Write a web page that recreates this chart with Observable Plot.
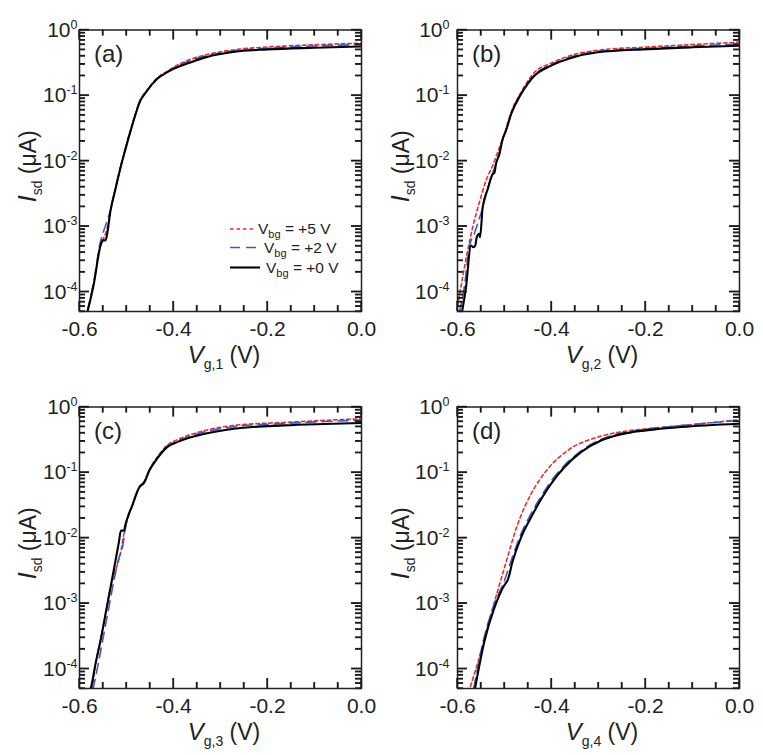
<!DOCTYPE html>
<html><head><meta charset="utf-8">
<script src="https://cdn.jsdelivr.net/npm/d3@7"></script>
<script src="https://cdn.jsdelivr.net/npm/@observablehq/plot@0.6"></script>
<style>
html,body{margin:0;padding:0;background:#fff;}
#wrap{position:relative;width:763px;height:755px;overflow:hidden;font-family:'Liberation Sans',Arial,sans-serif;}
.panel{position:absolute;}
#ticks{position:absolute;left:0;top:0;z-index:5;pointer-events:none;}
</style></head><body><div id="wrap"></div>
<script>
// ---------- data: [Vg (V), Isd (uA)] ----------
const a_bg5 = [[-0.5825,5.2e-5],[-0.5697,1.33e-4],[-0.5555,5.0e-4],[-0.5490,6.5e-4],[-0.5440,8.0e-4],[-0.5400,1.0e-3],[-0.5339,1.75e-3],[-0.5232,3.85e-3],[-0.5125,8.2e-3],[-0.5019,0.0158],[-0.4912,0.030],[-0.4805,0.054],[-0.4735,0.077],[-0.4558,0.122],[-0.4345,0.186],[-0.4131,0.235],[-0.4000,0.270],[-0.3882,0.300],[-0.3668,0.350],[-0.3300,0.420],[-0.2700,0.500],[-0.2000,0.550],[-0.1000,0.595],[0,0.63]];
const a_bg2 = [[-0.5830,5.2e-5],[-0.5700,1.38e-4],[-0.5565,5.4e-4],[-0.5500,8.0e-4],[-0.5440,1.05e-3],[-0.5400,1.3e-3],[-0.5339,1.8e-3],[-0.5232,3.9e-3],[-0.5125,8.2e-3],[-0.5019,0.0157],[-0.4912,0.029],[-0.4805,0.053],[-0.4735,0.075],[-0.4558,0.12],[-0.4345,0.182],[-0.4131,0.231],[-0.4000,0.262],[-0.3882,0.290],[-0.3668,0.335],[-0.3300,0.405],[-0.2700,0.480],[-0.2000,0.525],[-0.1000,0.570],[0,0.60]];
const a_bg0 = [[-0.5823,5.2e-5],[-0.5695,1.33e-4],[-0.5552,5.1e-4],[-0.5503,6.1e-4],[-0.5446,6.1e-4],[-0.5411,7.7e-4],[-0.5339,1.75e-3],[-0.5232,3.8e-3],[-0.5125,8.0e-3],[-0.5019,0.0154],[-0.4912,0.029],[-0.4805,0.052],[-0.4735,0.0746],[-0.4558,0.119],[-0.4345,0.18],[-0.4131,0.227],[-0.4000,0.255],[-0.3882,0.277],[-0.3668,0.315],[-0.3300,0.385],[-0.2700,0.465],[-0.2000,0.505],[-0.1000,0.535],[0,0.56]];

const b_bg5 = [[-0.6000,6.0e-5],[-0.5890,1.68e-4],[-0.5783,4.3e-4],[-0.5677,9.7e-4],[-0.5536,2.3e-3],[-0.5394,5.0e-3],[-0.5251,8.5e-3],[-0.5110,0.016],[-0.4968,0.031],[-0.4860,0.055],[-0.4647,0.112],[-0.4364,0.225],[-0.4010,0.31],[-0.3584,0.41],[-0.3018,0.49],[-0.1955,0.55],[-0.1000,0.60],[0,0.65]];
const b_bg2 = [[-0.5960,4.9e-5],[-0.5855,1.18e-4],[-0.5750,4.8e-4],[-0.5643,7.7e-4],[-0.5550,1.23e-3],[-0.5480,1.75e-3],[-0.5357,3.8e-3],[-0.5287,5.6e-3],[-0.5181,9.0e-3],[-0.5110,0.0127],[-0.5038,0.0216],[-0.4968,0.029],[-0.4860,0.052],[-0.4647,0.107],[-0.4364,0.205],[-0.4010,0.295],[-0.3584,0.39],[-0.3018,0.47],[-0.1955,0.525],[-0.1000,0.57],[0,0.61]];
const b_bg0 = [[-0.5904,4.9e-5],[-0.5819,1.18e-4],[-0.5713,5.1e-4],[-0.5664,4.8e-4],[-0.5621,5.1e-4],[-0.5592,6.8e-4],[-0.5536,7.7e-4],[-0.5521,6.8e-4],[-0.5464,1.96e-3],[-0.5357,3.7e-3],[-0.5251,6.3e-3],[-0.5215,6.6e-3],[-0.5181,9.0e-3],[-0.5110,0.0127],[-0.5038,0.0216],[-0.4968,0.029],[-0.4860,0.052],[-0.4647,0.105],[-0.4364,0.20],[-0.4010,0.285],[-0.3584,0.373],[-0.3018,0.456],[-0.1955,0.51],[-0.1000,0.545],[0,0.575]];

const c_bg5 = [[-0.5735,4.9e-5],[-0.5650,1.25e-4],[-0.5550,2.9e-4],[-0.5450,6.5e-4],[-0.5369,1.4e-3],[-0.5262,2.8e-3],[-0.5220,3.4e-3],[-0.5125,6.0e-3],[-0.5055,0.0115],[-0.4949,0.0232],[-0.4878,0.031],[-0.4805,0.045],[-0.4729,0.060],[-0.4622,0.073],[-0.4516,0.11],[-0.4350,0.17],[-0.4137,0.26],[-0.3924,0.315],[-0.3427,0.42],[-0.2716,0.524],[-0.1649,0.58],[-0.0800,0.625],[0,0.66]];
const c_bg2 = [[-0.5715,4.9e-5],[-0.5695,5.6e-5],[-0.5588,1.34e-4],[-0.5482,3.4e-4],[-0.5375,8.7e-4],[-0.5269,2.2e-3],[-0.5162,5.0e-3],[-0.5092,6.8e-3],[-0.5019,0.0146],[-0.4949,0.0232],[-0.4878,0.031],[-0.4805,0.044],[-0.4729,0.059],[-0.4622,0.072],[-0.4516,0.108],[-0.4350,0.165],[-0.4137,0.25],[-0.3924,0.30],[-0.3427,0.40],[-0.2716,0.50],[-0.1649,0.56],[-0.0800,0.60],[0,0.63]];
const c_bg0 = [[-0.5765,4.9e-5],[-0.5744,5.6e-5],[-0.5659,1.2e-4],[-0.5552,2.7e-4],[-0.5446,6.9e-4],[-0.5339,1.76e-3],[-0.5247,4.0e-3],[-0.5162,8.6e-3],[-0.5119,0.0129],[-0.5055,0.0129],[-0.5019,0.0164],[-0.4949,0.0232],[-0.4878,0.031],[-0.4805,0.044],[-0.4729,0.059],[-0.4622,0.0706],[-0.4516,0.106],[-0.4350,0.162],[-0.4137,0.244],[-0.3924,0.291],[-0.3427,0.377],[-0.2716,0.466],[-0.1649,0.524],[-0.0800,0.55],[0,0.569]];

const d_bg5 = [[-0.5724,5.4e-5],[-0.5497,1.87e-4],[-0.5250,8.5e-4],[-0.5001,3.5e-3],[-0.4718,0.0163],[-0.4434,0.047],[-0.4080,0.113],[-0.3655,0.217],[-0.3018,0.347],[-0.2500,0.42],[-0.1955,0.466],[-0.1000,0.54],[0,0.64]];
const d_bg2 = [[-0.5653,5.1e-5],[-0.5450,2.7e-4],[-0.5235,9.0e-4],[-0.4995,2.3e-3],[-0.4845,4.8e-3],[-0.4665,0.0108],[-0.4455,0.022],[-0.4240,0.041],[-0.4030,0.070],[-0.3740,0.125],[-0.3385,0.21],[-0.2950,0.32],[-0.2700,0.37],[-0.2310,0.425],[-0.1800,0.475],[-0.1247,0.52],[0,0.625]];
const d_bg0 = [[-0.5625,5.1e-5],[-0.5426,2.65e-4],[-0.5214,8.6e-4],[-0.4966,2.08e-3],[-0.4940,2.2e-3],[-0.4824,4.47e-3],[-0.4647,0.0102],[-0.4434,0.0206],[-0.4222,0.039],[-0.4010,0.067],[-0.3726,0.12],[-0.3372,0.204],[-0.2947,0.308],[-0.2700,0.355],[-0.2310,0.410],[-0.1800,0.455],[-0.1247,0.494],[0,0.555]];

const seriesNames = ["+5 V", "+2 V", "+0 V"];
const panelLetters = ["(a)", "(b)", "(c)", "(d)"];
const gateSubs = ["g,1", "g,2", "g,3", "g,4"];
const xMajor = [-0.6, -0.4, -0.2, 0];
const xMinor = [-0.55, -0.5, -0.45, -0.35, -0.3, -0.25, -0.15, -0.1, -0.05];
const yMajor = [1e-4, 1e-3, 1e-2, 1e-1, 1];
const yMinor = [];
for (let k = -5; k <= -1; k++) for (let m = 2; m <= 9; m++) { const v = m * Math.pow(10, k); if (v >= 5e-5) yMinor.push(v); }

const panelData = [[a_bg5, a_bg2, a_bg0], [b_bg5, b_bg2, b_bg0], [c_bg5, c_bg2, c_bg0], [d_bg5, d_bg2, d_bg0]];

// ---------- styling ----------
const styles = [
  {stroke: "#ee2b30", dash: "3.5,3", width: 1.6},
  {stroke: "#3d5cc0", dash: "10,6", width: 1.6},
  {stroke: "#000000", dash: null, width: 2.1}
];
const W = 381, H = 378, ML = 79, MT = 29.5, MR = 20, MB = 67;
const PW = W - ML - MR, PH = H - MT - MB;
const MAJ = 10, MIN = 6;
const pos = [[0, 0], [378, 0], [0, 377], [378, 377]];
const ink = "#222222";
const font = "'Liberation Sans', Arial, sans-serif";
const TW = 1.3;

const wrap = document.getElementById("wrap");
const tickSegs = []; // collected tick segments in page coordinates

panelData.forEach((series, p) => {
  const rightCol = p % 2 === 1;
  const marks = [];
  series.forEach((s, i) => {
    marks.push(Plot.line(s, {x: d => d[0], y: d => d[1], stroke: styles[i].stroke, curve: "monotone-x",
      strokeWidth: styles[i].width, strokeDasharray: styles[i].dash, clip: true}));
  });
  marks.push(
    Plot.ruleX(xMajor, {stroke: ink, strokeWidth: TW, insetTop: PH - MAJ}),
    Plot.ruleX(xMajor, {stroke: ink, strokeWidth: TW, insetBottom: PH - MAJ}),
    Plot.ruleX(xMinor, {stroke: ink, strokeWidth: TW, insetTop: PH - MIN}),
    Plot.ruleX(xMinor, {stroke: ink, strokeWidth: TW, insetBottom: PH - MIN}),
    Plot.ruleY(yMajor, {stroke: ink, strokeWidth: TW, insetRight: PW - MAJ}),
    Plot.ruleY(yMajor, {stroke: ink, strokeWidth: TW, insetLeft: PW - MAJ}),
    Plot.ruleY(yMinor, {stroke: ink, strokeWidth: TW, insetRight: PW - MIN}),
    Plot.ruleY(yMinor, {stroke: ink, strokeWidth: TW, insetLeft: PW - MIN}),
    Plot.frame({stroke: ink, strokeWidth: 1.5}),
    Plot.axisX(xMajor, {tickSize: 0, tickPadding: 10, tickFormat: d => d.toFixed(1), fontSize: 21, label: null}),
    Plot.axisY(yMajor, {tickSize: 0, tickPadding: rightCol ? 8 : 2, tickFormat: d => "10^" + Math.round(Math.log10(d)), fontSize: 21, label: null})
  );
  const svg = Plot.plot({
    width: W, height: H,
    marginLeft: ML, marginRight: MR, marginTop: MT, marginBottom: MB,
    x: {domain: [-0.6, 0]},
    y: {type: "log", domain: [5e-5, 1]},
    style: {fontFamily: font, color: ink},
    marks
  });
  const div = document.createElement("div");
  div.className = "panel";
  div.style.left = pos[p][0] + "px";
  div.style.top = pos[p][1] + "px";
  div.appendChild(svg);
  wrap.appendChild(div);

  // tick positions from the plot's scales (fallback: equivalent d3 scales)
  let sx = null, sy = null;
  try { sx = svg.scale("x"); sy = svg.scale("y"); } catch (e) {}
  const linX = d3.scaleLinear([-0.6, 0], [ML, ML + PW]);
  const logY = d3.scaleLog([5e-5, 1], [MT + PH, MT]);
  const fx = v => { const r = sx && sx.apply ? +sx.apply(v) : NaN; return Number.isFinite(r) ? r : linX(v); };
  const fy = v => { const r = sy && sy.apply ? +sy.apply(v) : NaN; return Number.isFinite(r) ? r : logY(v); };
  const ox = pos[p][0], oy = pos[p][1];
  const L = ML, R = ML + PW, T = MT, B = MT + PH;
  const addX = (vals, len) => vals.forEach(v => { const px = fx(v);
    tickSegs.push([ox + px, oy + B, ox + px, oy + B - len], [ox + px, oy + T, ox + px, oy + T + len]); });
  const addY = (vals, len) => vals.forEach(v => { const py = fy(v);
    tickSegs.push([ox + L, oy + py, ox + L + len, oy + py], [ox + R, oy + py, ox + R - len, oy + py]); });
  addX(xMajor, MAJ); addX(xMinor, MIN); addY(yMajor, MAJ); addY(yMinor, MIN);

  const S = d3.select(svg);
  // superscript exponents on y tick labels
  S.selectAll('g[aria-label="y-axis tick label"] text').each(function () {
    const t = d3.select(this);
    const parts = t.text().split("^");
    if (parts.length < 2) return;
    t.text(null);
    t.append("tspan").text(parts[0]);
    t.append("tspan").attr("dy", "-8").attr("font-size", "12.5px").text(parts[1]);
  });
  // panel letter
  S.append("text").attr("x", ML + 15).attr("y", MT + 32.5).attr("text-anchor", "start")
    .attr("font-family", font).attr("font-size", 24).attr("fill", ink).text(panelLetters[p]);
  // x label
  const xl = S.append("text").attr("x", ML + PW / 2 + 4).attr("y", 363)
    .attr("text-anchor", "middle").attr("font-family", font).attr("fill", ink);
  xl.append("tspan").attr("font-style", "italic").attr("font-size", 24).text("V");
  xl.append("tspan").attr("font-size", 14).attr("dy", 6).text(gateSubs[p]);
  xl.append("tspan").attr("font-size", 23).attr("dy", -6).text(" (V)");
  // y label
  const yx = rightCol ? ML - 48.5 : ML - 43;
  const yl = S.append("text").attr("transform", `translate(${yx},${MT + PH / 2 - 4}) rotate(-90)`)
    .attr("text-anchor", "middle").attr("font-family", font).attr("fill", ink);
  yl.append("tspan").attr("font-style", "italic").attr("font-size", 25).text("I");
  yl.append("tspan").attr("font-size", 14).attr("dy", 6).text("sd");
  yl.append("tspan").attr("font-size", 23).attr("dy", -6).text(" (\u03bcA)");

  // legend in panel (a)
  if (p === 0) {
    const ly = [229, 247.5, 267.5];
    const lx2 = [255, 258, 260];
    const tx = [258, 264, 266];
    seriesNames.forEach((nm, i) => {
      S.append("line").attr("x1", 230).attr("x2", lx2[i]).attr("y1", ly[i]).attr("y2", ly[i])
        .attr("stroke", styles[i].stroke).attr("stroke-width", styles[i].width)
        .attr("stroke-dasharray", styles[i].dash);
      const t = S.append("text").attr("x", tx[i]).attr("y", ly[i] + 5).attr("text-anchor", "start")
        .attr("font-family", font).attr("fill", ink);
      t.append("tspan").attr("font-size", 15.5).text("V");
      t.append("tspan").attr("font-size", 11).attr("dy", 4).text("bg");
      t.append("tspan").attr("font-size", 15.5).attr("dy", -4).text(" = " + nm);
    });
  }
});

// overlay svg carrying the inward tick marks for all panels
const NS = "http://www.w3.org/2000/svg";
const ov = document.createElementNS(NS, "svg");
ov.setAttribute("id", "ticks");
ov.setAttribute("width", "763");
ov.setAttribute("height", "755");
ov.setAttribute("viewBox", "0 0 763 755");
tickSegs.forEach(([x1, y1, x2, y2]) => {
  const ln = document.createElementNS(NS, "line");
  ln.setAttribute("x1", x1.toFixed(2)); ln.setAttribute("y1", y1.toFixed(2));
  ln.setAttribute("x2", x2.toFixed(2)); ln.setAttribute("y2", y2.toFixed(2));
  ln.setAttribute("stroke", "#1a1a1a"); ln.setAttribute("stroke-width", "1.4");
  ov.appendChild(ln);
});
wrap.appendChild(ov);
</script>
</body></html>
